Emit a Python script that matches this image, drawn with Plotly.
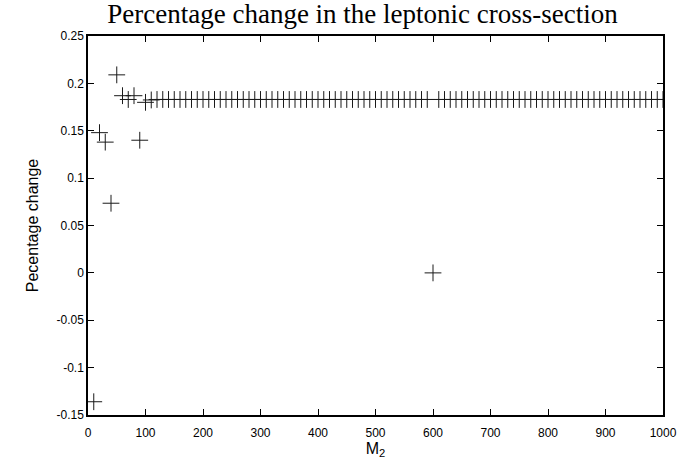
import plotly.graph_objects as go

# Data
m2_early = [10, 20, 30, 40, 50, 60, 70, 80, 90, 100, 110]
pct_early = [-0.136, 0.148, 0.138, 0.0735, 0.209, 0.187, 0.183, 0.187, 0.140, 0.180, 0.1825]
m2_late = [m for m in range(120, 1001, 10)]
pct_late = [0.0 if m == 600 else 0.183 for m in m2_late]

m2 = m2_early + m2_late
pct = pct_early + pct_late

x_ticks = [0, 100, 200, 300, 400, 500, 600, 700, 800, 900, 1000]
y_ticks = [-0.15, -0.1, -0.05, 0, 0.05, 0.1, 0.15, 0.2, 0.25]
y_tick_labels = ["-0.15", "-0.1", "-0.05", "0", "0.05", "0.1", "0.15", "0.2", "0.25"]

fig = go.Figure()
fig.add_trace(go.Scatter(
    x=m2, y=pct, mode="markers",
    marker=dict(symbol="cross-thin", size=12, line=dict(width=1, color="#1a1a1a"), color="#1a1a1a"),
    showlegend=False,
))

axis_common = dict(
    showline=True, linecolor="black", linewidth=1.5, mirror="ticks",
    ticks="inside", ticklen=6, tickcolor="black", tickwidth=1,
    showgrid=False, zeroline=False, automargin=False,
    tickfont=dict(family="Liberation Sans, Arial, sans-serif", size=12, color="black"),
)

fig.update_layout(
    width=684, height=459,
    margin=dict(l=88, r=21, t=36, b=44),
    paper_bgcolor="white", plot_bgcolor="white",
    title=dict(
        text="Percentage change in the leptonic cross-section",
        font=dict(family="Liberation Serif, Times New Roman, serif", size=27, color="black"),
        x=0.53, xanchor="center", yref="container", y=1, yanchor="top",
        pad=dict(t=4),
    ),
    xaxis=dict(
        range=[0, 1000], tickvals=x_ticks, ticklabelstandoff=6,
        title=dict(text="M<sub>2</sub>", standoff=2,
                   font=dict(family="Liberation Sans, Arial, sans-serif", size=16, color="black")),
        **axis_common,
    ),
    yaxis=dict(
        range=[-0.15, 0.25], tickvals=y_ticks, ticktext=y_tick_labels,
        title=dict(text="Pecentage change", standoff=14,
                   font=dict(family="Liberation Sans, Arial, sans-serif", size=16, color="black")),
        **axis_common,
    ),
)

fig.write_html("out.html")
